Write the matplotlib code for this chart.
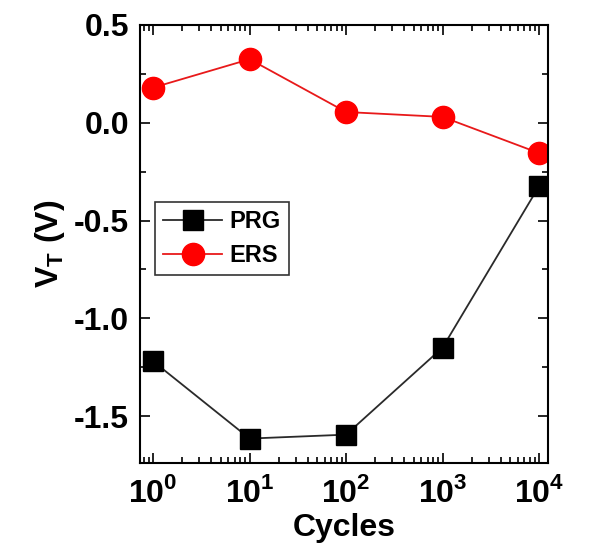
import matplotlib
matplotlib.use("Agg")
import matplotlib.pyplot as plt
from matplotlib.ticker import LogLocator, MultipleLocator, FixedLocator, FormatStrFormatter

plt.rcParams['font.family'] = ['Liberation Sans', 'DejaVu Sans']
plt.rcParams['font.weight'] = 'bold'
plt.rcParams['mathtext.fontset'] = 'custom'
plt.rcParams['mathtext.rm'] = 'Liberation Sans:bold'
plt.rcParams['mathtext.bf'] = 'Liberation Sans:bold'

cycles = [1, 10, 100, 1000, 10000]
vt_prg = [-1.22, -1.615, -1.595, -1.15, -0.325]
vt_ers = [0.18, 0.325, 0.055, 0.03, -0.155]

fig = plt.figure(figsize=(5.9, 5.55), dpi=100)
ax = fig.add_axes([140/590, 1 - 463/555, 408/590, 438/555])

ax.plot(cycles, vt_prg, color='#2a2a2a', lw=1.3, marker='s', ms=14,
        mfc='black', mec='black', label='PRG')
ax.plot(cycles, vt_ers, color='#e8191a', lw=1.3, marker='o', ms=16,
        mfc='#ff0000', mec='#ff0000', label='ERS')

ax.set_xscale('log')
ax.set_xlim(0.73, 12400)
ax.set_ylim(-1.74, 0.5)

ax.xaxis.set_major_locator(FixedLocator(cycles))
ax.xaxis.set_minor_locator(LogLocator(base=10, subs=range(2, 10), numticks=20))
ax.set_xticklabels([r'$\mathbf{10}^{\mathbf{%d}}$' % i for i in range(5)])
ax.yaxis.set_major_locator(MultipleLocator(0.5))
ax.yaxis.set_minor_locator(MultipleLocator(0.25))
ax.yaxis.set_major_formatter(FormatStrFormatter('%.1f'))

ax.tick_params(which='both', direction='in', top=True, right=True, width=1.2)
ax.tick_params(which='major', length=7, labelsize=23)
ax.tick_params(axis='x', which='major', pad=10)
ax.tick_params(axis='y', which='major', pad=8)
ax.tick_params(which='minor', length=4)
for s in ax.spines.values():
    s.set_linewidth(1.5)

ax.set_xlabel('Cycles', fontsize=23, fontweight='bold', labelpad=3)
ax.set_ylabel(r'V$_\mathbf{T}$ (V)', fontsize=23, fontweight='bold', labelpad=5)

leg = ax.legend(loc='upper left', bbox_to_anchor=(0.037, 0.596), borderaxespad=0,
                fontsize=17, frameon=True, fancybox=False, edgecolor='black',
                handlelength=2.5, handletextpad=0.3, borderpad=0.35, labelspacing=0.45)
leg.get_frame().set_linewidth(1.2)
for t in leg.get_texts():
    t.set_fontweight('bold')

fig.savefig('out.png', dpi=100)
